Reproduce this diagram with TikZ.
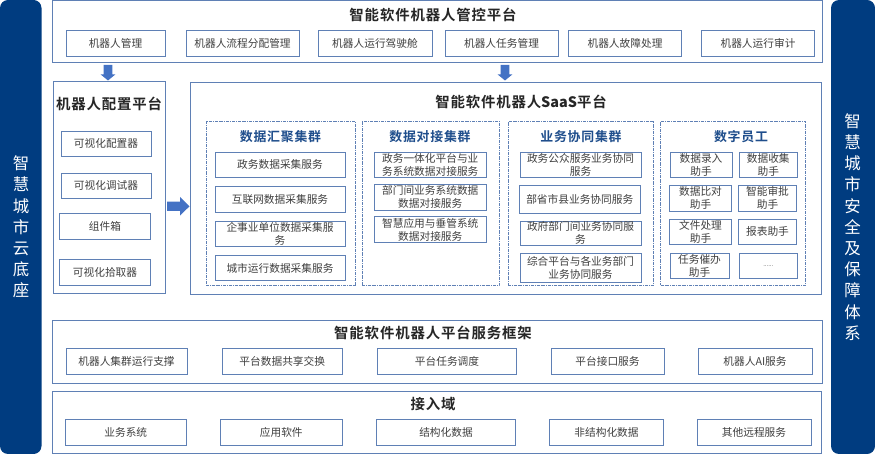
\documentclass[tikz,border=0pt]{standalone}
\usepackage{fontspec}
\setmainfont{Noto Sans CJK SC}
\newfontfamily\titlefont[LetterSpace=6,BoldFont={Noto Sans CJK SC Bold}]{Noto Sans CJK SC}
\definecolor{barblue}{HTML}{003C80}
\definecolor{lineblue}{HTML}{5F80B5}
\definecolor{arrowblue}{HTML}{4472C4}
\definecolor{clusterblue}{HTML}{1F4E8C}
\definecolor{boxtext}{HTML}{404040}
\tikzset{
  x=1pt,y=-1pt,
  framebox/.style={draw=lineblue,line width=0.8pt,fill=white,inner sep=0pt},
  itembox/.style={draw=lineblue,line width=0.9pt,fill=white,inner sep=0pt,align=center,
    text=boxtext,font=\fontsize{10.7}{13}\selectfont},
  clusterbox/.style={draw=lineblue,line width=0.7pt,densely dash dot,inner sep=0pt},
  maintitle/.style={font=\titlefont\fontsize{14.4}{17}\selectfont\bfseries,text=black!85,inner sep=0pt},
  clustertitle/.style={font=\titlefont\fontsize{12.9}{16}\selectfont\bfseries,text=clusterblue,inner sep=0pt},
  sidebar/.style={fill=barblue,rounded corners=8pt,inner sep=0pt},
  sidetext/.style={text=white,align=center,inner sep=0pt,font=\fontsize{16.4}{21.2}\selectfont},
  blockarrow/.style={fill=arrowblue,draw=none},
}
\newcommand{\placebox}[7][itembox]{%
  \node[#1,minimum width={(#4-#2)*1pt},minimum height={(#5-#3)*1pt}] (#6) at ({(#2+#4)/2},{(#3+#5)/2}) {#7};}
\newcommand{\downarrowshape}[1]{%
  \fill[blockarrow,shift={(#1,65)}] (-4.3,0) -- (4.3,0) -- (4.3,9.5) -- (7.3,9.5) -- (0,15.5) -- (-7.3,9.5) -- (-4.3,9.5) -- cycle;}
\begin{document}
\begin{tikzpicture}
\useasboundingbox (0,0) rectangle (875,454);
% side bars
\placebox[sidebar]{0}{0}{41.5}{454}{leftbar}{}
\placebox[sidebar]{831}{0}{875}{454}{rightbar}{}
\node[sidetext] (lefttext) at (21,227) {智\\慧\\城\\市\\云\\底\\座};
\node[sidetext] (righttext) at (852.5,227) {智\\慧\\城\\市\\安\\全\\及\\保\\障\\体\\系};
% top platform
\placebox[framebox]{52}{0}{822}{62}{topframe}{}
\node[maintitle] (toptitle) at (433,15) {智能软件机器人管控平台};
\placebox{66}{30.5}{165}{56}{t1}{机器人管理}
\placebox{186}{30.5}{299}{56}{t2}{机器人流程分配管理}
\placebox{318}{30.5}{432}{56}{t3}{机器人运行驾驶舱}
\placebox{445}{30.5}{558}{56}{t4}{机器人任务管理}
\placebox{568.5}{30.5}{681.5}{56}{t5}{机器人故障处理}
\placebox{701.5}{30.5}{814.5}{56}{t6}{机器人运行审计}
% config platform
\placebox[framebox]{53}{81.5}{165.5}{293.5}{configframe}{}
\node[maintitle] (configtitle) at (109,104) {机器人配置平台};
\placebox{61}{131}{151}{156}{c1}{可视化配置器}
\placebox{61}{173}{151}{198.5}{c2}{可视化调试器}
\placebox{59.5}{213.5}{150.5}{239.5}{c3}{组件箱}
\placebox{59.5}{259}{150.5}{285}{c4}{可视化拾取器}
% saas platform
\placebox[framebox]{190.5}{82}{821}{294.5}{saasframe}{}
\node[maintitle] (saastitle) at (521,102) {智能软件机器人{\rmfamily\bfseries SaaS}平台};
% arrows
\downarrowshape{108}
\downarrowshape{505}
\fill[blockarrow] (167,201.7) -- (180,201.7) -- (180,197) -- (189.5,206.3) -- (180,215.6) -- (180,211) -- (167,211) -- cycle;
% clusters
\placebox[clusterbox]{206}{121.5}{355}{285.5}{k1}{}
\placebox[clusterbox]{362}{121.5}{499}{285.5}{k2}{}
\placebox[clusterbox]{508}{121.5}{653}{285.5}{k3}{}
\placebox[clusterbox]{660.5}{121.5}{805.5}{285.5}{k4}{}
\node[clustertitle] (k1t) at (280.5,137) {数据汇聚集群};
\node[clustertitle] (k2t) at (430,137) {数据对接集群};
\node[clustertitle] (k3t) at (581,137) {业务协同集群};
\node[clustertitle] (k4t) at (741,137) {数字员工};
% column 1
\placebox{215}{152}{345}{177.5}{a1}{政务数据采集服务}
\placebox{215}{186}{345}{212.5}{a2}{互联网数据采集服务}
\placebox{215}{221}{345}{246.5}{a3}{企事业单位数据采集服\\务}
\placebox{215}{255.5}{345}{280.5}{a4}{城市运行数据采集服务}
% column 2
\placebox{374}{152}{486.5}{177.5}{b1}{政务一体化平台与业\\务系统数据对接服务}
\placebox{374}{184}{486.5}{210.5}{b2}{部门间业务系统数据\\数据对接服务}
\placebox{374}{216.5}{486.5}{242.5}{b3}{智慧应用与垂管系统\\数据对接服务}
% column 3
\placebox{520}{152}{641}{177.5}{d1}{政务公众服务业务协同\\服务}
\placebox{519}{185.5}{640.5}{213.5}{d2}{部省市县业务协同服务}
\placebox{520}{221}{641}{245.5}{d3}{政府部门间业务协同服\\务}
\placebox{520}{253}{641}{282}{d4}{综合平台与各业务部门\\业务协同服务}
% column 4
\placebox{670}{152}{732}{177.5}{e1}{数据录入\\助手}
\placebox{739}{152}{797.5}{177.5}{e2}{数据收集\\助手}
\placebox{669.5}{185}{731.5}{211}{e3}{数据比对\\助手}
\placebox{738.5}{185}{796.5}{211}{e4}{智能审批\\助手}
\placebox{669.5}{219}{731.5}{244.5}{e5}{文件处理\\助手}
\placebox{738.5}{219}{796.5}{244.5}{e6}{报表助手}
\placebox{670}{253}{729}{278.5}{e7}{任务催办\\助手}
\placebox{739}{253}{797.5}{278.5}{e8}{\fontsize{6}{8}\selectfont ......}
% service framework
\placebox[framebox]{52.5}{320.5}{822.5}{383}{svcframe}{}
\node[maintitle] (svctitle) at (433,333) {智能软件机器人平台服务框架};
\placebox{66}{348.5}{187}{374.5}{s1}{机器人集群运行支撑}
\placebox{222}{348.5}{342.5}{374.5}{s2}{平台数据共享交换}
\placebox{377.5}{348.5}{516.5}{374.5}{s3}{平台任务调度}
\placebox{551}{348.5}{664}{374.5}{s4}{平台接口服务}
\placebox{698}{348.5}{812}{374.5}{s5}{机器人AI服务}
% access domain
\placebox[framebox]{52}{391}{821}{453.5}{accframe}{}
\node[maintitle] (acctitle) at (433,404) {接入域};
\placebox{65}{419}{186.5}{445}{i1}{业务系统}
\placebox{220.5}{419}{342}{445}{i2}{应用软件}
\placebox{376.5}{419}{515.5}{445}{i3}{结构化数据}
\placebox{549.5}{419}{663.5}{445}{i4}{非结构化数据}
\placebox{697}{419}{811}{445}{i5}{其他远程服务}
\end{tikzpicture}
\end{document}
